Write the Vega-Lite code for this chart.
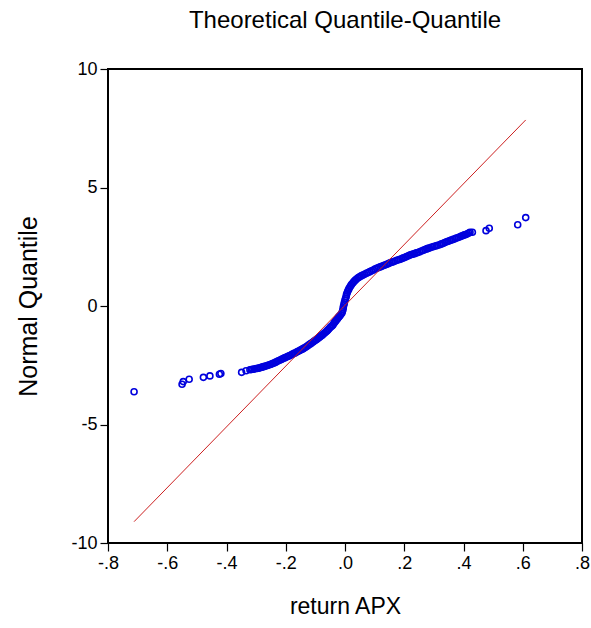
{
  "$schema": "https://vega.github.io/schema/vega-lite/v6.json",
  "width": 474,
  "height": 474,
  "autosize": {"type": "none"},
  "padding": {"left": 108, "top": 69, "right": 9, "bottom": 85},
  "background": "white",
  "config": {
    "view": {"stroke": "black", "strokeWidth": 2},
    "font": "Liberation Sans",
    "axis": {"grid": false, "domain": false, "ticks": true, "tickColor": "black", "tickWidth": 1.2, "tickSize": 8, "labelFlush": false, "labelOverlap": false, "labelFont": "Liberation Sans", "labelFontSize": 18, "labelColor": "black", "titleFont": "Liberation Sans", "titleFontWeight": "normal", "titleColor": "black"}
  },
  "title": {"text": "Theoretical Quantile-Quantile", "font": "Liberation Sans", "fontSize": 24, "fontWeight": "normal", "color": "black", "offset": 27, "anchor": "middle"},
  "datasets": {
    "qq": [
      {"r": -0.712, "q": -3.62}, {"r": -0.550, "q": -3.30}, {"r": -0.546, "q": -3.19}, {"r": -0.526, "q": -3.09}, {"r": -0.478, "q": -3.01}, {"r": -0.456, "q": -2.95}, {"r": -0.424, "q": -2.88}, {"r": -0.419, "q": -2.85}, {"r": -0.349, "q": -2.80}, {"r": -0.334, "q": -2.73},
      {"r": -0.321, "q": -2.69}, {"r": -0.316, "q": -2.68}, {"r": -0.311, "q": -2.67}, {"r": -0.306, "q": -2.66}, {"r": -0.300, "q": -2.64}, {"r": -0.295, "q": -2.63}, {"r": -0.290, "q": -2.62}, {"r": -0.285, "q": -2.60}, {"r": -0.280, "q": -2.58}, {"r": -0.275, "q": -2.56}, {"r": -0.270, "q": -2.54}, {"r": -0.265, "q": -2.52}, {"r": -0.260, "q": -2.50}, {"r": -0.255, "q": -2.48}, {"r": -0.250, "q": -2.46}, {"r": -0.245, "q": -2.43}, {"r": -0.240, "q": -2.41}, {"r": -0.235, "q": -2.38}, {"r": -0.230, "q": -2.34}, {"r": -0.225, "q": -2.31}, {"r": -0.219, "q": -2.28}, {"r": -0.214, "q": -2.25}, {"r": -0.209, "q": -2.22}, {"r": -0.204, "q": -2.19}, {"r": -0.199, "q": -2.16}, {"r": -0.194, "q": -2.13}, {"r": -0.190, "q": -2.11}, {"r": -0.186, "q": -2.09}, {"r": -0.181, "q": -2.06}, {"r": -0.177, "q": -2.03}, {"r": -0.172, "q": -2.00}, {"r": -0.167, "q": -1.97}, {"r": -0.162, "q": -1.93}, {"r": -0.158, "q": -1.91}, {"r": -0.153, "q": -1.88}, {"r": -0.149, "q": -1.85}, {"r": -0.144, "q": -1.82}, {"r": -0.140, "q": -1.79}, {"r": -0.135, "q": -1.75}, {"r": -0.131, "q": -1.72}, {"r": -0.126, "q": -1.68}, {"r": -0.122, "q": -1.64}, {"r": -0.117, "q": -1.60}, {"r": -0.113, "q": -1.56}, {"r": -0.108, "q": -1.52}, {"r": -0.104, "q": -1.48}, {"r": -0.100, "q": -1.45}, {"r": -0.096, "q": -1.41}, {"r": -0.092, "q": -1.37}, {"r": -0.089, "q": -1.34}, {"r": -0.085, "q": -1.31}, {"r": -0.081, "q": -1.27}, {"r": -0.077, "q": -1.23}, {"r": -0.073, "q": -1.18}, {"r": -0.069, "q": -1.14}, {"r": -0.065, "q": -1.10}, {"r": -0.061, "q": -1.05}, {"r": -0.058, "q": -1.01}, {"r": -0.055, "q": -0.97}, {"r": -0.051, "q": -0.92}, {"r": -0.048, "q": -0.88}, {"r": -0.044, "q": -0.84}, {"r": -0.041, "q": -0.80}, {"r": -0.038, "q": -0.74}, {"r": -0.035, "q": -0.69}, {"r": -0.032, "q": -0.64}, {"r": -0.029, "q": -0.59}, {"r": -0.026, "q": -0.55}, {"r": -0.024, "q": -0.51}, {"r": -0.021, "q": -0.46}, {"r": -0.018, "q": -0.42}, {"r": -0.015, "q": -0.37}, {"r": -0.011, "q": -0.31}, {"r": -0.009, "q": -0.24}, {"r": -0.007, "q": -0.16}, {"r": -0.006, "q": -0.08}, {"r": -0.005, "q": 0.00}, {"r": -0.003, "q": 0.08}, {"r": -0.002, "q": 0.16}, {"r": 0.000, "q": 0.25}, {"r": 0.002, "q": 0.33}, {"r": 0.004, "q": 0.40}, {"r": 0.005, "q": 0.48}, {"r": 0.007, "q": 0.55}, {"r": 0.009, "q": 0.62}, {"r": 0.012, "q": 0.69}, {"r": 0.014, "q": 0.75}, {"r": 0.017, "q": 0.81}, {"r": 0.020, "q": 0.87}, {"r": 0.023, "q": 0.93}, {"r": 0.027, "q": 0.98}, {"r": 0.030, "q": 1.03}, {"r": 0.034, "q": 1.08}, {"r": 0.038, "q": 1.13}, {"r": 0.043, "q": 1.18}, {"r": 0.047, "q": 1.21}, {"r": 0.051, "q": 1.24}, {"r": 0.056, "q": 1.28}, {"r": 0.061, "q": 1.31}, {"r": 0.066, "q": 1.34}, {"r": 0.072, "q": 1.38}, {"r": 0.078, "q": 1.41}, {"r": 0.084, "q": 1.45}, {"r": 0.090, "q": 1.49}, {"r": 0.096, "q": 1.52}, {"r": 0.101, "q": 1.56}, {"r": 0.107, "q": 1.59}, {"r": 0.113, "q": 1.62}, {"r": 0.119, "q": 1.65}, {"r": 0.124, "q": 1.68}, {"r": 0.130, "q": 1.71}, {"r": 0.135, "q": 1.73}, {"r": 0.141, "q": 1.76}, {"r": 0.147, "q": 1.79}, {"r": 0.152, "q": 1.82}, {"r": 0.158, "q": 1.85}, {"r": 0.163, "q": 1.87}, {"r": 0.169, "q": 1.90}, {"r": 0.175, "q": 1.93}, {"r": 0.181, "q": 1.95}, {"r": 0.186, "q": 1.97}, {"r": 0.192, "q": 2.00}, {"r": 0.197, "q": 2.03}, {"r": 0.203, "q": 2.06}, {"r": 0.208, "q": 2.09}, {"r": 0.214, "q": 2.12}, {"r": 0.219, "q": 2.15}, {"r": 0.224, "q": 2.17}, {"r": 0.230, "q": 2.19}, {"r": 0.235, "q": 2.21}, {"r": 0.241, "q": 2.24}, {"r": 0.246, "q": 2.26}, {"r": 0.252, "q": 2.29}, {"r": 0.258, "q": 2.32}, {"r": 0.264, "q": 2.35}, {"r": 0.270, "q": 2.38}, {"r": 0.276, "q": 2.41}, {"r": 0.280, "q": 2.43}, {"r": 0.285, "q": 2.45}, {"r": 0.291, "q": 2.48}, {"r": 0.297, "q": 2.50}, {"r": 0.302, "q": 2.52}, {"r": 0.308, "q": 2.54}, {"r": 0.313, "q": 2.56}, {"r": 0.321, "q": 2.59}, {"r": 0.326, "q": 2.62}, {"r": 0.332, "q": 2.65}, {"r": 0.337, "q": 2.68}, {"r": 0.343, "q": 2.71}, {"r": 0.348, "q": 2.73}, {"r": 0.354, "q": 2.76}, {"r": 0.359, "q": 2.78}, {"r": 0.365, "q": 2.81}, {"r": 0.371, "q": 2.84}, {"r": 0.376, "q": 2.87}, {"r": 0.382, "q": 2.89}, {"r": 0.388, "q": 2.92}, {"r": 0.393, "q": 2.95}, {"r": 0.398, "q": 2.97}, {"r": 0.403, "q": 3.00}, {"r": 0.408, "q": 3.02}, {"r": 0.413, "q": 3.05}, {"r": 0.418, "q": 3.08}, {"r": 0.422, "q": 3.11},
      {"r": 0.430, "q": 3.11}, {"r": 0.476, "q": 3.18}, {"r": 0.487, "q": 3.28}, {"r": 0.583, "q": 3.43}, {"r": 0.610, "q": 3.73}
    ],
    "fit": [
      {"r": -0.712, "q": -9.1},
      {"r": 0.610, "q": 7.85}
    ]
  },
  "layer": [
    {
      "data": {"name": "qq"},
      "mark": {"type": "point", "shape": "circle", "filled": false, "stroke": "#0000dd", "strokeWidth": 1.6, "size": 36, "opacity": 1},
      "encoding": {
        "x": {"field": "r", "type": "quantitative", "scale": {"domain": [-0.8, 0.8], "nice": false, "zero": false}, "axis": {"title": "return APX", "titleFontSize": 23, "values": [-0.8, -0.6, -0.4, -0.2, 0, 0.2, 0.4, 0.6, 0.8], "labelExpr": "replace(replace(format(datum.value, '.1f'), '0.', '.'), '\u2212', '-')", "labelPadding": 3, "titlePadding": 23}},
        "y": {"field": "q", "type": "quantitative", "scale": {"domain": [-10, 10], "nice": false, "zero": false}, "axis": {"title": "Normal Quantile", "titleFontSize": 25, "values": [-10, -5, 0, 5, 10], "labelExpr": "toString(datum.value)", "labelPadding": 3, "titlePadding": 29}}
      }
    },
    {
      "data": {"name": "fit"},
      "mark": {"type": "line", "color": "#cc2020", "strokeWidth": 1},
      "encoding": {
        "x": {"field": "r", "type": "quantitative"},
        "y": {"field": "q", "type": "quantitative"}
      }
    }
  ]
}
